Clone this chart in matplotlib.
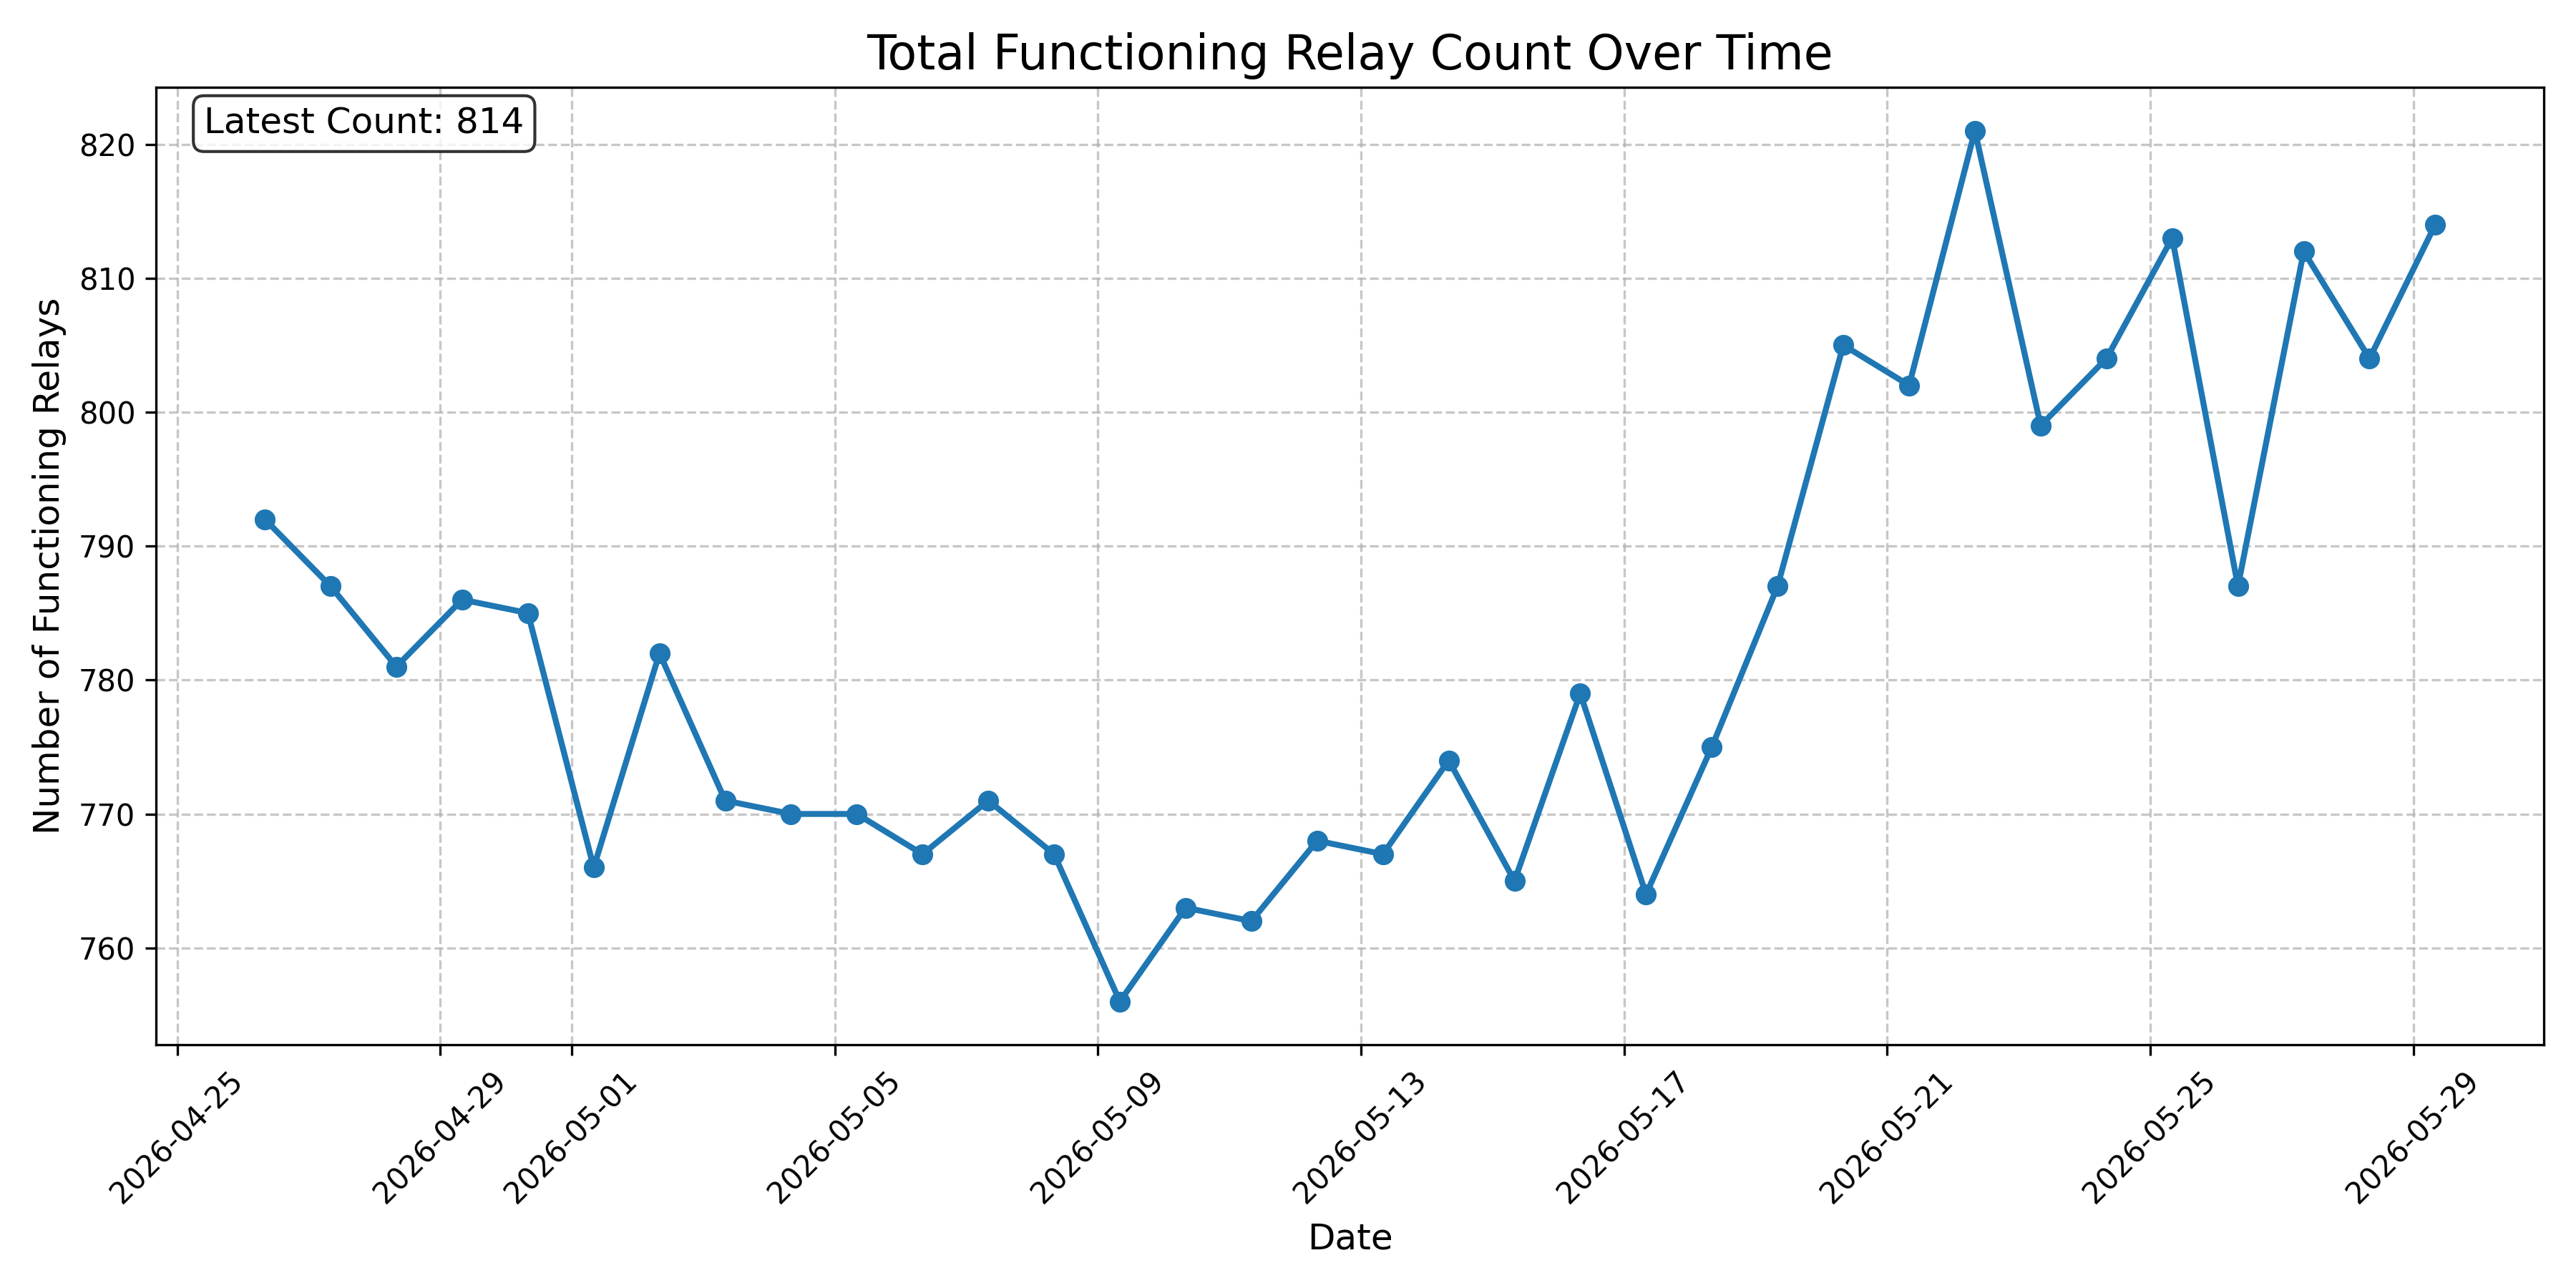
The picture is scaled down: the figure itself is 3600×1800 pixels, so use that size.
import numpy as np
import pandas as pd
import matplotlib
matplotlib.use("Agg")
import matplotlib.pyplot as plt

dates = pd.date_range("2026-04-26 08:00", periods=34, freq="D")
counts = [792, 787, 781, 786, 785, 766, 782, 771, 770, 770,
          767, 771, 767, 756, 763, 762, 768, 767, 774, 765,
          779, 764, 775, 787, 805, 802, 821, 799, 804, 813,
          787, 812, 804, 814]

fig, ax = plt.subplots(figsize=(12, 6), dpi=300)
ax.plot(dates, counts, marker='o', linestyle='-', linewidth=2, markersize=6, color='#1f77b4')
ax.set_title('Total Functioning Relay Count Over Time', fontsize=16)
ax.set_xlabel('Date', fontsize=12)
ax.set_ylabel('Number of Functioning Relays', fontsize=12)
ax.grid(True, linestyle='--', alpha=0.7)
plt.xticks(rotation=45)

ax.text(0.02, 0.98, f'Latest Count: {counts[-1]}', transform=ax.transAxes,
        fontsize=12, verticalalignment='top',
        bbox=dict(boxstyle='round', facecolor='white', alpha=0.8))

plt.tight_layout()
plt.savefig('out.png', dpi=300)
